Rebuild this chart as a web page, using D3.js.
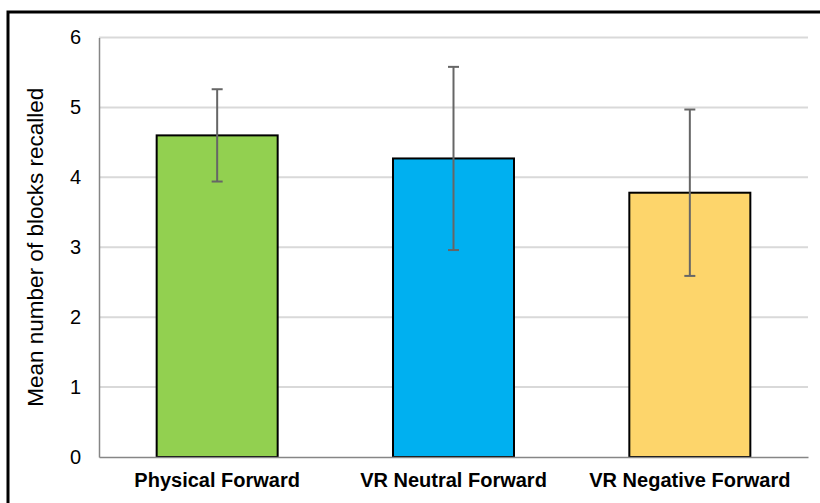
<!DOCTYPE html>
<html>
<head>
<meta charset="utf-8">
<script src="https://cdn.jsdelivr.net/npm/d3@7"></script>
<style>
  html, body { margin: 0; padding: 0; background: #fff; }
  svg { display: block; }
</style>
</head>
<body>
<svg id="chart" width="820" height="503"></svg>
<script>
const categories = ["Physical Forward", "VR Neutral Forward", "VR Negative Forward"];
const means = [4.6, 4.27, 3.78];
const errors = [0.66, 1.31, 1.19];
const barColors = ["#92D050", "#00B0F0", "#FDD56B"];
const yTicks = [0, 1, 2, 3, 4, 5, 6];
const yTitle = "Mean number of blocks recalled";

const svg = d3.select("#chart");
const W = 820, H = 503;
const plot = { left: 99, right: 808, top: 37.5, bottom: 457 };

// outer border (right/bottom edges fall outside the picture)
svg.append("rect")
  .attr("x", 8).attr("y", 12)
  .attr("width", W).attr("height", H)
  .attr("fill", "none").attr("stroke", "#000").attr("stroke-width", 3);

const y = d3.scaleLinear().domain([0, 6]).range([plot.bottom, plot.top]);
const x = d3.scaleBand().domain(categories)
  .range([plot.left, plot.right])
  .paddingInner(0.488).paddingOuter(0.244);

// gridlines
svg.append("g").selectAll("line")
  .data(yTicks.filter(d => d > 0))
  .join("line")
  .attr("x1", plot.left).attr("x2", plot.right)
  .attr("y1", d => y(d)).attr("y2", d => y(d))
  .attr("stroke", "#D9D9D9").attr("stroke-width", 2);

// y axis
const yAxis = d3.axisLeft(y).tickValues(yTicks).tickSize(0).tickPadding(18).tickFormat(d3.format("d"));
const gy = svg.append("g").attr("transform", `translate(${plot.left},0)`).call(yAxis);
gy.select(".domain").attr("stroke", "#868686").attr("stroke-width", 1.5);
gy.selectAll("text")
  .attr("font-family", "Arial, 'Liberation Sans', sans-serif")
  .attr("font-size", 20).attr("fill", "#000");

// bars
const data = categories.map((c, i) => ({ c, m: means[i], e: errors[i], col: barColors[i] }));
svg.append("g").selectAll("rect")
  .data(data).join("rect")
  .attr("x", d => x(d.c)).attr("width", x.bandwidth())
  .attr("y", d => y(d.m)).attr("height", d => y(0) - y(d.m))
  .attr("fill", d => d.col).attr("stroke", "#000").attr("stroke-width", 2);

// x axis line
const xAxis = d3.axisBottom(x).tickSize(0).tickPadding(16);
const gx = svg.append("g").attr("transform", `translate(0,${plot.bottom})`).call(xAxis);
gx.select(".domain").attr("stroke", "#868686").attr("stroke-width", 1.5);
gx.selectAll("text")
  .attr("font-family", "Arial, 'Liberation Sans', sans-serif")
  .attr("font-size", 20).attr("font-weight", "bold").attr("fill", "#000");

// error bars
const eb = svg.append("g").selectAll("g").data(data).join("g");
const cx = d => x(d.c) + x.bandwidth() / 2;
eb.append("line")
  .attr("x1", cx).attr("x2", cx)
  .attr("y1", d => y(d.m + d.e)).attr("y2", d => y(d.m - d.e))
  .attr("stroke", "#666").attr("stroke-width", 2);
eb.append("line")
  .attr("x1", d => cx(d) - 5.5).attr("x2", d => cx(d) + 5.5)
  .attr("y1", d => y(d.m + d.e)).attr("y2", d => y(d.m + d.e))
  .attr("stroke", "#666").attr("stroke-width", 2);
eb.append("line")
  .attr("x1", d => cx(d) - 5.5).attr("x2", d => cx(d) + 5.5)
  .attr("y1", d => y(d.m - d.e)).attr("y2", d => y(d.m - d.e))
  .attr("stroke", "#666").attr("stroke-width", 2);

// y title
svg.append("text")
  .attr("transform", `translate(43,${(plot.top + plot.bottom) / 2}) rotate(-90)`)
  .attr("text-anchor", "middle")
  .attr("font-family", "Arial, 'Liberation Sans', sans-serif")
  .attr("font-size", 22.5).attr("fill", "#000")
  .text(yTitle);
</script>
</body>
</html>
